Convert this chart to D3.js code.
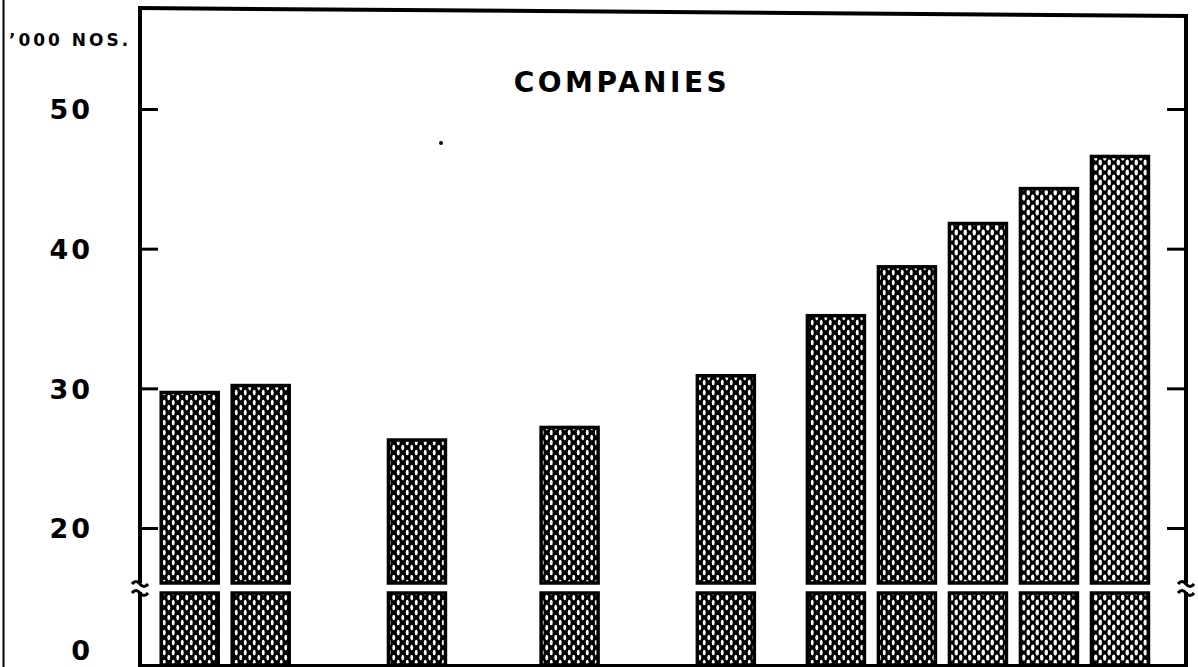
<!DOCTYPE html>
<html>
<head>
<meta charset="utf-8">
<script src="https://cdn.jsdelivr.net/npm/d3@7"></script>
<style>
  body { margin: 0; background: #fff; }
  svg { display: block; }
  text { font-family: "DejaVu Sans", sans-serif; font-weight: bold; fill: #000; }
</style>
</head>
<body>
<div id="chart"></div>
<script>
var periods = [0, 1, 3.2, 5.35, 7.55, 9.1, 10.1, 11.1, 12.1, 13.1];
var companies = [29.7, 30.2, 26.3, 27.2, 30.9, 35.2, 38.7, 41.8, 44.3, 46.6];
var yTicks = [20, 30, 40, 50];
var lowTicks = [0];

function init(){
    var w = 1198;
    var h = 667;
    var left = 140, right = 1186, bottom = 665;
    var barW = 57;
    var breakTop = 583, breakBottom = 593;

    var svg = d3.select("#chart")
                .append("svg")
                .attr("width", w)
                .attr("height", h);

    // hatch patterns
    var defs = svg.append("defs");
    function hatch(id, rx, ry){
        var p = defs.append("pattern")
            .attr("id", id)
            .attr("patternUnits", "userSpaceOnUse")
            .attr("width", 9).attr("height", 10);
        p.append("rect").attr("width", 9).attr("height", 10).attr("fill", "#000");
        [[2.25, 2.5], [6.75, 7.5], [6.75, -2.5], [2.25, 12.5]].forEach(function(c){
            p.append("ellipse").attr("cx", c[0]).attr("cy", c[1])
                .attr("rx", rx).attr("ry", ry).attr("fill", "#fff");
        });
    }
    hatch("dark", 1.45, 2.7);
    hatch("light", 1.7, 3.0);

    var x = d3.scaleLinear().domain([-0.7, 14.03]).range([left, right]);
    var yHigh = d3.scaleLinear().domain([20, 50]).range([528, 109]);
    var yLow = d3.scaleLinear().domain([0, 5]).range([bottom, breakBottom]);

    var data = periods.map(function(p, i){ return {p: p, v: companies[i], i: i}; });

    function fillFor(d){ return d.i >= 7 ? "url(#light)" : "url(#dark)"; }

    // upper part of bars
    svg.selectAll("rect.upper")
        .data(data)
        .enter()
        .append("rect")
        .attr("class", "upper")
        .attr("x", function(d){ return x(d.p) - barW/2; })
        .attr("y", function(d){ return yHigh(d.v); })
        .attr("width", barW)
        .attr("height", function(d){ return breakTop - yHigh(d.v); })
        .attr("fill", fillFor)
        .attr("stroke", "#000")
        .attr("stroke-width", 3.5);

    // lower part of bars, below the break
    svg.selectAll("rect.lower")
        .data(data)
        .enter()
        .append("rect")
        .attr("class", "lower")
        .attr("x", function(d){ return x(d.p) - barW/2; })
        .attr("y", yLow(5))
        .attr("width", barW)
        .attr("height", yLow(0) - yLow(5))
        .attr("fill", fillFor)
        .attr("stroke", "#000")
        .attr("stroke-width", 3.5);

    // frame
    svg.append("line").attr("x1", left).attr("x2", left).attr("y1", 7).attr("y2", h)
        .attr("stroke", "#000").attr("stroke-width", 4);
    svg.append("line").attr("x1", left - 2).attr("x2", right + 2).attr("y1", 8).attr("y2", 16)
        .attr("stroke", "#000").attr("stroke-width", 4);
    svg.append("line").attr("x1", right).attr("x2", right).attr("y1", 14).attr("y2", h)
        .attr("stroke", "#000").attr("stroke-width", 4);
    svg.append("line").attr("x1", left).attr("x2", right).attr("y1", bottom + 0.5).attr("y2", bottom + 0.5)
        .attr("stroke", "#000").attr("stroke-width", 3);
    // scan edge at far left
    svg.append("line").attr("x1", 3.5).attr("x2", 3.5).attr("y1", 0).attr("y2", h)
        .attr("stroke", "#000").attr("stroke-width", 2);

    // axes
    var axL = svg.append("g").attr("transform", "translate(" + left + ",0)")
        .call(d3.axisLeft(yHigh).tickValues(yTicks).tickSize(-18).tickPadding(47));
    var axL0 = svg.append("g").attr("transform", "translate(" + left + ",0)")
        .call(d3.axisLeft(yLow).tickValues(lowTicks).tickSize(0).tickPadding(47).tickFormat(d3.format("d")));
    var axR = svg.append("g").attr("transform", "translate(" + right + ",0)")
        .call(d3.axisRight(yHigh).tickValues(yTicks).tickSize(-19).tickFormat(""));
    [axL, axL0, axR].forEach(function(g){
        g.select(".domain").remove();
        g.selectAll(".tick line").attr("stroke", "#000").attr("stroke-width", 3);
        g.selectAll(".tick text")
            .style("font-family", "'DejaVu Sans', sans-serif")
            .style("font-weight", "bold")
            .style("font-size", "27px")
            .style("letter-spacing", "3px")
            .attr("fill", "#000");
    });
    axL.selectAll(".tick text").attr("dy", "0.36em");
    axL0.selectAll(".tick text").attr("dy", "-0.22em");

    // axis breaks
    [left, right].forEach(function(ax){
        svg.append("rect").attr("x", ax - 4).attr("y", breakTop).attr("width", 8)
            .attr("height", breakBottom - breakTop - 1).attr("fill", "#fff");
        [breakTop - 1, breakBottom - 2].forEach(function(yy){
            svg.append("path")
                .attr("d", "M" + (ax - 8) + "," + (yy + 2) + " q4,-5 8,0 t8,0")
                .attr("fill", "none").attr("stroke", "#000").attr("stroke-width", 3);
        });
    });

    // texts
    svg.append("text").attr("x", 622).attr("y", 92).attr("text-anchor", "middle")
        .style("font-size", "28px").style("letter-spacing", "3.5px").text("COMPANIES");
    svg.append("text").attr("x", 9).attr("y", 46)
        .style("font-size", "17px").style("letter-spacing", "3px").text("\u2019000 NOS.");

    // speck in the scan
    svg.append("circle").attr("cx", 441).attr("cy", 143).attr("r", 2).attr("fill", "#000");
}
window.onload = init;
</script>
</body>
</html>
